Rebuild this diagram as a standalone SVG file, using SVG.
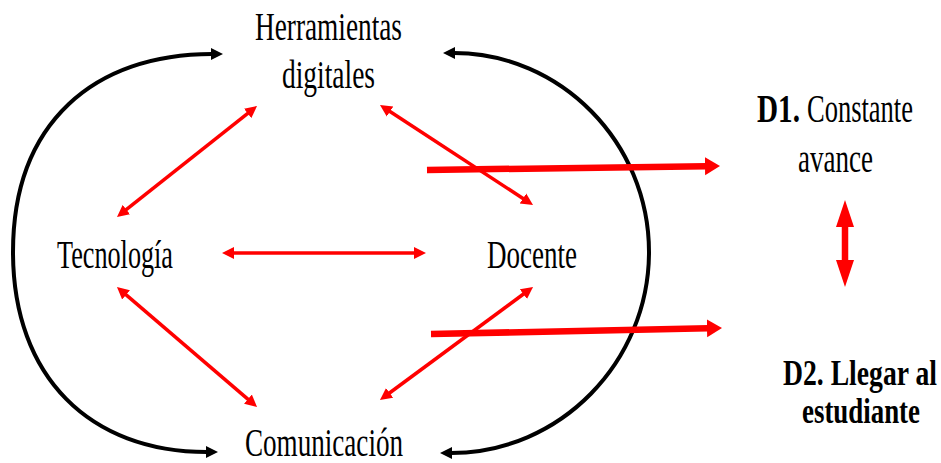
<svg xmlns="http://www.w3.org/2000/svg" width="941" height="463" viewBox="0 0 941 463">
<style>
.lbl{font-family:"Liberation Serif","Times New Roman",serif;font-size:41px;fill:#000}
.b{font-weight:bold}
.sm{font-size:36px}
.blk{fill:none;stroke:#000;stroke-width:4}
.thin{fill:none;stroke:#f00;stroke-width:3.5}
.thick{fill:none;stroke:#f00;stroke-width:6.5}
</style>
<defs>
<marker id="ab" markerUnits="userSpaceOnUse" viewBox="0 -7 14 14" refX="1" refY="0" markerWidth="14" markerHeight="14" orient="auto-start-reverse"><path d="M0,-6 L12,0 L0,6 z" fill="#000"/></marker>
<marker id="ar" markerUnits="userSpaceOnUse" viewBox="0 -7 14 14" refX="1" refY="0" markerWidth="14" markerHeight="14" orient="auto-start-reverse"><path d="M0,-6 L12,0 L0,6 z" fill="#f00"/></marker>
<marker id="at" markerUnits="userSpaceOnUse" viewBox="0 -10 16 20" refX="1" refY="0" markerWidth="16" markerHeight="20" orient="auto-start-reverse"><path d="M0,-9 L15,0 L0,9 z" fill="#f00"/></marker>
<marker id="av" markerUnits="userSpaceOnUse" viewBox="0 -10 28 20" refX="1" refY="0" markerWidth="28" markerHeight="20" orient="auto-start-reverse"><path d="M0,-9 L27,0 L0,9 z" fill="#f00"/></marker>
</defs>
<g id="connectors">
<path class="blk" d="M212,54 C95,54 13,122 13,252 C13,377 90,452 207,452" marker-start="url(#ab)" marker-end="url(#ab)"/>
<path class="blk" d="M454,53 C560,53 649,142 649,252 C649,362 560,453 451,453" marker-start="url(#ab)" marker-end="url(#ab)"/>
<line class="thin" x1="248.4" y1="112.8" x2="125.6" y2="210.2" marker-start="url(#ar)" marker-end="url(#ar)"/>
<line class="thin" x1="389.2" y1="111" x2="523.8" y2="199" marker-start="url(#ar)" marker-end="url(#ar)"/>
<line class="thin" x1="233" y1="253" x2="415" y2="253" marker-start="url(#ar)" marker-end="url(#ar)"/>
<line class="thin" x1="125.3" y1="294.2" x2="248.7" y2="399.8" marker-start="url(#ar)" marker-end="url(#ar)"/>
<line class="thin" x1="388.8" y1="393.5" x2="524.2" y2="293.5" marker-start="url(#ar)" marker-end="url(#ar)"/>
<line class="thick" x1="427" y1="170" x2="706" y2="166.2" marker-end="url(#at)"/>
<line class="thick" x1="431" y1="334" x2="708" y2="328.3" marker-end="url(#at)"/>
<line class="thick" x1="845" y1="226" x2="845" y2="261" marker-start="url(#av)" marker-end="url(#av)"/>
</g>
<g id="herramientas"><text class="lbl" x="255" y="40" textLength="147" lengthAdjust="spacingAndGlyphs">Herramientas</text><text class="lbl" x="282" y="88" textLength="93" lengthAdjust="spacingAndGlyphs">digitales</text></g>
<g id="tecnologia"><text class="lbl" x="57" y="268" textLength="116" lengthAdjust="spacingAndGlyphs">Tecnología</text></g>
<g id="docente"><text class="lbl" x="487" y="268" textLength="90" lengthAdjust="spacingAndGlyphs">Docente</text></g>
<g id="comunicacion"><text class="lbl" x="245" y="456" textLength="158" lengthAdjust="spacingAndGlyphs">Comunicación</text></g>
<g id="d1"><text class="lbl" y="122"><tspan class="b" x="757" textLength="43" lengthAdjust="spacingAndGlyphs">D1.</tspan><tspan x="807" textLength="106" lengthAdjust="spacingAndGlyphs">Constante</tspan></text><text class="lbl" x="798" y="172" textLength="75" lengthAdjust="spacingAndGlyphs">avance</text></g>
<g id="d2"><text class="lbl b sm" x="783" y="385" textLength="154" lengthAdjust="spacingAndGlyphs">D2. Llegar al</text><text class="lbl b sm" x="802" y="423" textLength="118" lengthAdjust="spacingAndGlyphs">estudiante</text></g>
</svg>
